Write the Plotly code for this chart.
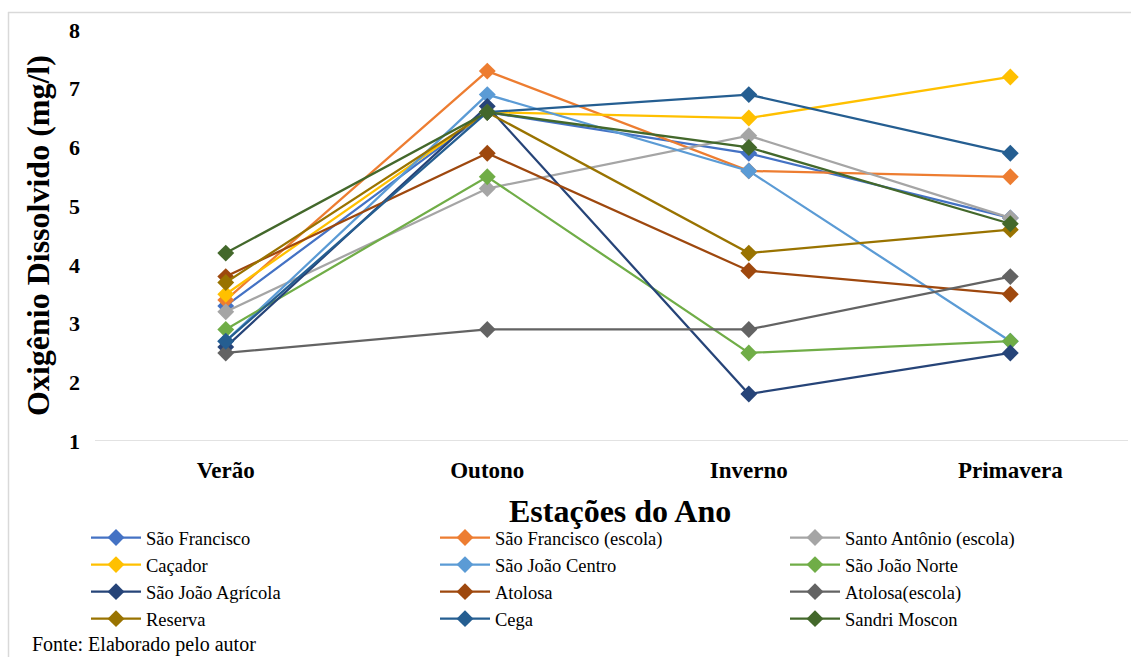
import plotly.graph_objects as go

seasons = ["Verão", "Outono", "Inverno", "Primavera"]

sao_francisco = [3.3, 6.6, 5.9, 4.8]
sao_francisco_escola = [3.4, 7.3, 5.6, 5.5]
santo_antonio_escola = [3.2, 5.3, 6.2, 4.8]
cacador = [3.5, 6.6, 6.5, 7.2]
sao_joao_centro = [2.7, 6.9, 5.6, 2.7]
sao_joao_norte = [2.9, 5.5, 2.5, 2.7]
sao_joao_agricola = [2.6, 6.7, 1.8, 2.5]
atolosa = [3.8, 5.9, 3.9, 3.5]
atolosa_escola = [2.5, 2.9, 2.9, 3.8]
reserva = [3.7, 6.6, 4.2, 4.6]
cega = [2.7, 6.6, 6.9, 5.9]
sandri_moscon = [4.2, 6.6, 6.0, 4.7]

series = [
    ("São Francisco", sao_francisco, "#4472C4"),
    ("São Francisco (escola)", sao_francisco_escola, "#ED7D31"),
    ("Santo Antônio (escola)", santo_antonio_escola, "#A5A5A5"),
    ("Caçador", cacador, "#FFC000"),
    ("São João Centro", sao_joao_centro, "#5B9BD5"),
    ("São João Norte", sao_joao_norte, "#70AD47"),
    ("São João Agrícola", sao_joao_agricola, "#264478"),
    ("Atolosa", atolosa, "#9E480E"),
    ("Atolosa(escola)", atolosa_escola, "#636363"),
    ("Reserva", reserva, "#997300"),
    ("Cega", cega, "#255E91"),
    ("Sandri Moscon", sandri_moscon, "#43682B"),
]

FONT = "Liberation Serif"
legend_ids = ["legend", "legend2", "legend3"]

fig = go.Figure()
for i, (name, vals, col) in enumerate(series):
    fig.add_trace(go.Scatter(
        x=list(range(len(seasons))), y=vals, name=name, mode="lines+markers",
        line=dict(color=col, width=2.25),
        marker=dict(symbol="diamond", size=13, color=col),
        legend=legend_ids[i % 3],
    ))

# plot area: x 95..1128, y 30..441
W, H = 1131, 657
L, R, T, B = 95, 3, 30, 216
pw, ph = W - L - R, H - T - B

def px(x):
    return (x - L) / pw

def py(y):
    return (H - B - y) / ph

def leg(xpix):
    return dict(
        orientation="v", xref="container", yref="container",
        x=xpix / W, y=1 - 519 / H, xanchor="left", yanchor="top",
        font=dict(family=FONT, size=18.5, color="black"),
        bgcolor="rgba(0,0,0,0)", itemwidth=50, tracegroupgap=0,
    )

fig.update_layout(
    width=W, height=H,
    margin=dict(l=L, r=R, t=T, b=B, autoexpand=False),
    paper_bgcolor="white", plot_bgcolor="white",
    font=dict(family=FONT, color="black"),
    showlegend=True,
    legend=leg(86), legend2=leg(435), legend3=leg(785),
    xaxis=dict(
        range=[-0.5, 3.45], tickmode="array", tickvals=list(range(len(seasons))),
        ticktext=seasons, showgrid=False, zeroline=False,
        showline=False, ticks="",
        tickfont=dict(family=FONT, size=23, color="black", weight="bold"),
        ticklabelstandoff=13,
    ),
    yaxis=dict(
        range=[1, 8], dtick=1, showgrid=False, zeroline=False, showline=False,
        ticks="", tickfont=dict(family=FONT, size=22, color="black", weight="bold"),
        ticklabelstandoff=14,
    ),
    shapes=[
        dict(type="line", xref="x", yref="y", x0=-0.5, x1=3.45, y0=1, y1=1,
             line=dict(color="#D9D9D9", width=1.5), layer="below"),
        dict(type="line", xref="paper", yref="paper", x0=px(8.5), x1=px(8.5),
             y0=py(12), y1=py(H + 5), line=dict(color="#D9D9D9", width=1.5)),
        dict(type="line", xref="paper", yref="paper", x0=px(8), x1=px(W + 5),
             y0=py(12.5), y1=py(12.5), line=dict(color="#D9D9D9", width=1.5)),
    ],
    annotations=[
        dict(text="Oxigênio Dissolvido (mg/l)", xref="paper", yref="paper",
             x=px(38), y=py(236), xanchor="center", yanchor="middle",
             textangle=-90, showarrow=False,
             font=dict(family=FONT, size=32, color="black", weight="bold")),
        dict(text="Estações do Ano", xref="paper", yref="paper",
             x=px(620), y=py(511), xanchor="center", yanchor="middle",
             showarrow=False,
             font=dict(family=FONT, size=32, color="black", weight="bold")),
        dict(text="Fonte: Elaborado pelo autor", xref="paper", yref="paper",
             x=px(31), y=py(657), xanchor="left", yanchor="bottom",
             showarrow=False, borderpad=0,
             font=dict(family=FONT, size=20, color="black")),
    ],
)

fig.write_html("out.html")
